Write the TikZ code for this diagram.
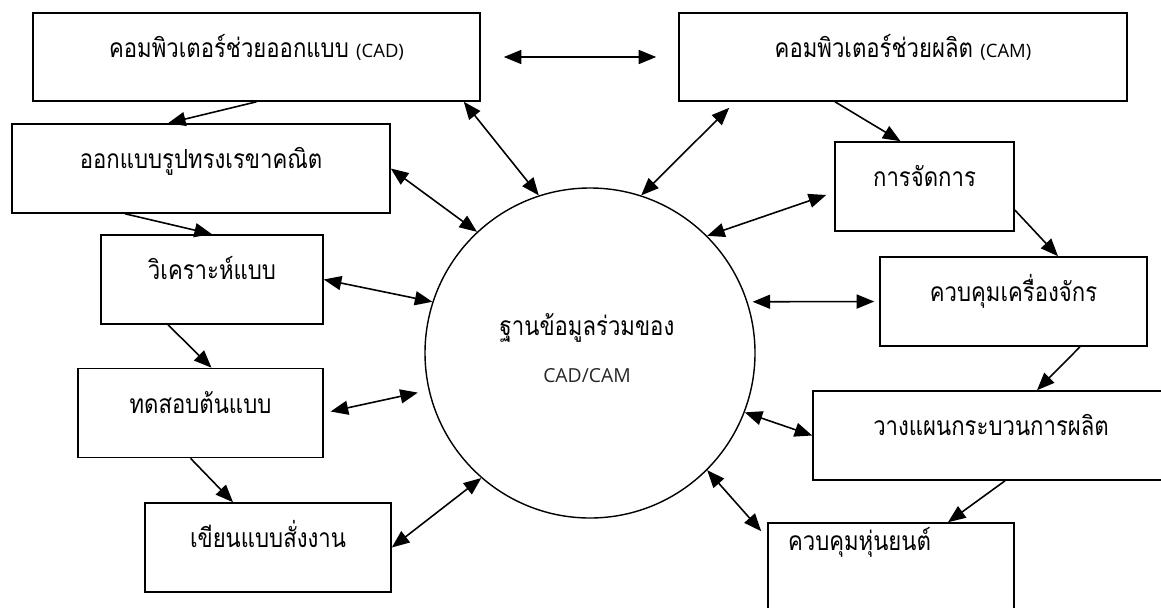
\documentclass[tikz,border=0pt]{standalone}
\usepackage{fontspec}
\newfontfamily\thaifont[Script=Thai, FakeStretch=0.84]{Loma}
\newfontfamily\latfont{Open Sans}
\usetikzlibrary{positioning, arrows.meta, calc}
\newcommand{\lat}[1]{{\latfont\fontsize{10.5}{12}\selectfont #1}}

\begin{document}
\begin{tikzpicture}[
  box/.style={rectangle, draw, line width=0.9pt, inner sep=0pt, text height=0.3cm, text depth=0.3cm,
    minimum height=1.78cm, font=\thaifont\fontsize{15}{18}\selectfont},
  db/.style={circle, draw, line width=0.8pt, minimum size=6.6cm, inner sep=0pt},
  flow/.style={line width=0.9pt, -{Triangle[length=10pt, width=8pt]}},
  link/.style={line width=0.9pt, {Triangle[length=10pt, width=8pt]}-{Triangle[length=10pt, width=8pt]}}
]
  \clip (0,0) rectangle (23.22,12.14);

  % Shared database
  \node[db] (circ) at (11.80,5.08) {};
  \node[font=\thaifont\fontsize{15}{18}\selectfont, anchor=base] (dbname) at (11.74,5.44) {ฐานข้อมูลร่วมของ};
  \node[font=\latfont\fontsize{11}{13}\selectfont, text=black!85, anchor=base] (dbsub) at (11.74,4.50) {CAD/CAM};

  % CAD side
  \node[box, minimum width=8.94cm, minimum height=1.76cm] (cad) at (5.13,11.00) {คอมพิวเตอร์ช่วยออกแบบ \lat{(CAD)}};
  \node[box, minimum width=7.56cm] (geo) at (4.02,8.77) {ออกแบบรูปทรงเรขาคณิต};
  \node[box, minimum width=4.44cm] (ana) at (4.24,6.55) {วิเคราะห์แบบ};
  \node[box, minimum width=4.90cm] (test) at (4.01,3.88) {ทดสอบต้นแบบ};
  \node[box, minimum width=4.92cm] (draft) at (5.36,1.19) {เขียนแบบสั่งงาน};

  % CAM side
  \node[box, minimum width=8.96cm, minimum height=1.76cm] (cam) at (18.06,11.00) {คอมพิวเตอร์ช่วยผลิต \lat{(CAM)}};
  \node[box, minimum width=3.58cm] (mgmt) at (18.49,8.41) {การจัดการ};
  \node[box, minimum width=5.34cm] (mach) at (20.27,6.11) {ควบคุมเครื่องจักร};
  \node[box, minimum width=7.12cm] (plan) at (19.82,3.43) {วางแผนกระบวนการผลิต};
  \node[box, minimum width=4.92cm, minimum height=2.4cm, text width=4.12cm, align=left, inner xsep=0.4cm,
    text height=0.35cm, text depth=1.67cm] (robot) at (17.82,0.48) {ควบคุมหุ่นยนต์};

  % Steps
  \draw[flow] (cad.south) -- ($(geo.north)+(-0.66,0)$);
  \draw[flow] ($(geo.south)+(-1.52,0)$) -- (ana.north);
  \draw[flow] ($(ana.south)+(-0.88,0)$) -- ($(test.north)+(0.22,0)$);
  \draw[flow] ($(test.south)+(-0.2,0)$) -- ($(draft.north)+(-0.7,0)$);
  \draw[flow] ($(cam.south)+(-1.36,0)$) -- ($(mgmt.north)+(-0.48,0)$);
  \draw[flow] ($(mgmt.east)+(0,-0.47)$) -- ($(mach.north)+(0.89,0)$);
  \draw[flow] ($(mach.south)+(1.33,0)$) -- ($(plan.north)+(0.92,0)$);
  \draw[flow] ($(plan.south)+(0.28,0)$) -- ($(robot.north)+(1.14,0)$);

  % Links to the database
  \draw[link, shorten <=0.46cm, shorten >=0.44cm] (cad.east) -- (cam.west);
  \draw[link] ($(cad.south east)+(-0.34,0)$) -- (circ.108);
  \draw[link] ($(cam.south west)+(1.02,-0.12)$) -- (circ.72);
  \draw[link] (geo.east) -- (circ.133);
  \draw[link] (ana.east) -- (circ.162);
  \draw[link, shorten <=0.14cm, shorten >=0.22cm] (test.east) -- (circ.193);
  \draw[link] (draft.east) -- (circ.229);
  \draw[link] (circ.45) -- ($(mgmt.west)+(-0.16,-0.17)$);
  \draw[link, shorten <=0.1cm, shorten >=0.1cm] (circ.18) -- (mach.west);
  \draw[link] (circ.-21) -- (plan.west);
  \draw[link] (circ.-45) -- ($(robot.north west)+(-0.12,-0.18)$);
\end{tikzpicture}
\end{document}
